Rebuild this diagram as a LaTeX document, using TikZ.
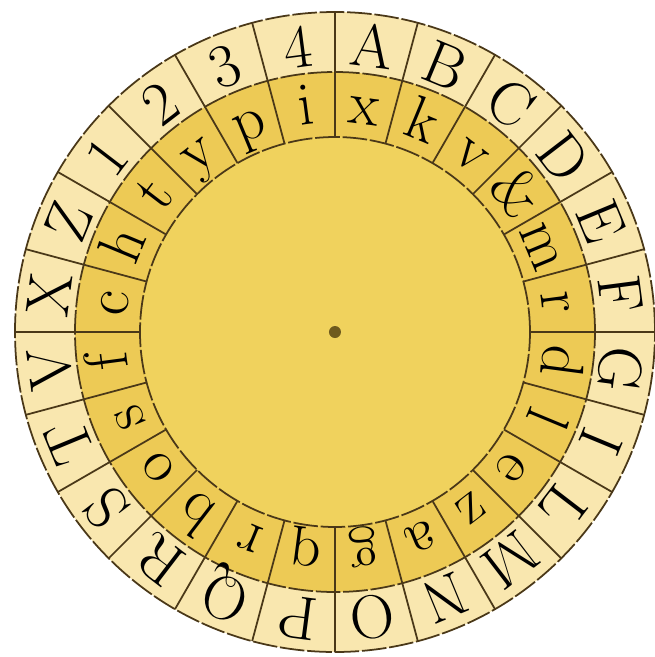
\documentclass[tikz,border=0pt]{standalone}
\usetikzlibrary{calc}
\definecolor{dkouter}{HTML}{F9E7AF}
\definecolor{dkinner}{HTML}{EDCA55}
\definecolor{dkcore}{HTML}{F0D25D}
\definecolor{dkline}{HTML}{4A3818}
\definecolor{dkhub}{HTML}{6E5A1E}
\tikzset{
  dkring/.style={draw=dkline, line width=0.5pt, dash pattern=on 7pt off 0.8pt},
  dkspoke/.style={draw=dkline, line width=0.5pt},
  dkglyph/.style={anchor=base, inner sep=0pt,
    font=\fontsize{17.5}{19}\selectfont, text=black},
}
\begin{document}
\begin{tikzpicture}[x=1cm, y=1cm]
\useasboundingbox (-3.35,-3.25) rectangle (3.19,3.32);

% Disk faces, outside in.
\fill[dkouter] (0,0) circle (3.2);
\fill[dkinner] (0,0) circle (2.6);
\fill[dkcore] (0,0) circle (1.95);

% Ring outlines and the 24 spokes.
\foreach \r in {3.2, 2.6, 1.95} {
  \draw[dkring] (0,0) circle (\r);
}
\foreach \k in {0,...,23} {
  \draw[dkspoke] (\k*15:1.95) -- (\k*15:3.2);
}

% Stationary ring, clockwise from the top.
\foreach \ch [count=\i from 0] in {A,B,C,D,E,F,G,I,L,M,N,O,P,Q,R,S,T,V,X,Z,1,2,3,4} {
  \node[dkglyph, rotate={-7.5-\i*15}] (outer\i)
    at ({82.5-\i*15}:2.67) {\ch};
}

% Movable ring, clockwise from the top.
\foreach \ch [count=\i from 0] in {x,k,v,\&,m,r,d,l,e,z,a,g,q,r,b,o,s,f,c,h,t,y,p,i} {
  \node[dkglyph, rotate={-7.5-\i*15}] (inner\i)
    at ({82.5-\i*15}:2.09) {\ch};
}

% Pivot.
\fill[dkhub] (0,0) circle (0.06);

\end{tikzpicture}
\end{document}
